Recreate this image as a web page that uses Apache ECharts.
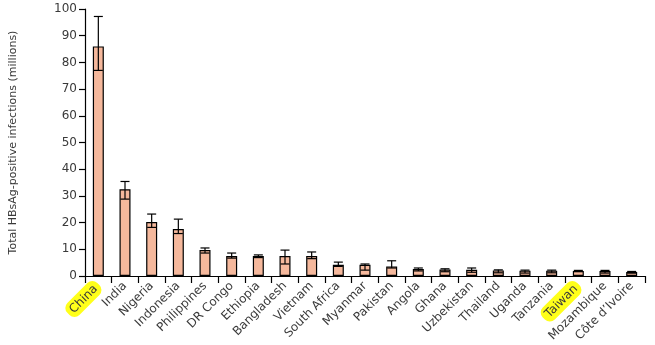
<!DOCTYPE html>
<html>
<head>
<meta charset="utf-8">
<script src="https://cdn.jsdelivr.net/npm/echarts@6/dist/echarts.min.js"></script>
<style>
  html, body { margin: 0; padding: 0; background: #fff; }
  #chart { width: 655px; height: 345px; }
</style>
</head>
<body>
<div id="chart"></div>
<script>
// HBsAg-positive infections by country (millions), with uncertainty ranges
const countries = ['China', 'India', 'Nigeria', 'Indonesia', 'Philippines', 'DR Congo', 'Ethiopia',
  'Bangladesh', 'Vietnam', 'South Africa', 'Myanmar', 'Pakistan', 'Angola', 'Ghana', 'Uzbekistan',
  'Thailand', 'Uganda', 'Tanzania', 'Taiwan', 'Mozambique', 'Côte d’Ivoire'];
const infections = [86, 32.5, 20.2, 17.6, 9.7, 7.5, 7.5, 7.5, 7.5, 4.2, 4.2, 3.6, 2.6, 2.4, 2.3,
  2.1, 2.0, 2.0, 1.9, 1.9, 1.5];
const lowerBound = [77, 28.8, 18.2, 15.9, 8.6, 6.7, 6.9, 4.5, 6.5, 3.6, 2.2, 3.0, 1.9, 1.6, 1.4,
  1.2, 1.1, 1.2, 1.7, 1.1, 1.1];
const upperBound = [97.2, 35.4, 23.2, 21.3, 10.5, 8.6, 7.9, 9.7, 9.0, 5.2, 4.5, 5.7, 3.0, 2.7, 3.0,
  2.3, 2.2, 2.2, 2.1, 2.1, 1.7];
const highlighted = ['China', 'Taiwan'];
const yTicks = { min: 0, max: 100, interval: 10 };

const chart = echarts.init(document.getElementById('chart'), null, { renderer: 'canvas' });

const errorData = countries.map((c, i) => [i, lowerBound[i], upperBound[i]]);

chart.setOption({
  animation: false,
  backgroundColor: '#ffffff',
  grid: { left: 84, right: 10, top: 9, bottom: 69 },
  xAxis: {
    type: 'category',
    data: countries,
    axisLine: { lineStyle: { color: '#000', width: 1.2 } },
    axisTick: { show: true, length: 7, lineStyle: { color: '#000', width: 1.2 } },
    axisLabel: {
      interval: 0,
      rotate: 45,
      margin: 8,
      fontFamily: 'DejaVu Sans',
      fontSize: 12,
      color: '#3a3a3a',
      formatter: v => highlighted.includes(v) ? '{hl|' + v + '}' : v,
      rich: {
        hl: {
          backgroundColor: '#ffff1a',
          borderRadius: 7,
          padding: [3, 4, 2, 4],
          fontFamily: 'DejaVu Sans',
          fontSize: 12,
          color: '#3a3a3a'
        }
      }
    }
  },
  yAxis: {
    type: 'value',
    min: yTicks.min,
    max: yTicks.max,
    interval: yTicks.interval,
    name: 'Total HBsAg-positive infections (millions)',
    nameLocation: 'middle',
    nameGap: 66,
    nameTextStyle: { fontFamily: 'DejaVu Sans', fontSize: 11, color: '#3a3a3a' },
    axisLine: { show: true, lineStyle: { color: '#000', width: 1.2 } },
    axisTick: { show: true, length: 6, lineStyle: { color: '#000', width: 1.2 } },
    axisLabel: { fontFamily: 'DejaVu Sans', fontSize: 12, color: '#3a3a3a', margin: 8 },
    splitLine: { show: false }
  },
  series: [
    {
      type: 'bar',
      data: infections,
      barWidth: 11,
      itemStyle: { color: '#f5b89c', borderColor: '#000', borderWidth: 1.2 }
    },
    {
      type: 'custom',
      data: errorData,
      z: 5,
      renderItem: function (params, api) {
        const idx = api.value(0);
        const lo = api.coord([idx, api.value(1)]);
        const hi = api.coord([idx, api.value(2)]);
        const half = 4.5;
        const style = { stroke: '#000', lineWidth: 1.2 };
        return {
          type: 'group',
          children: [
            { type: 'line', shape: { x1: lo[0], y1: lo[1], x2: hi[0], y2: hi[1] }, style },
            { type: 'line', shape: { x1: hi[0] - half, y1: hi[1], x2: hi[0] + half, y2: hi[1] }, style },
            { type: 'line', shape: { x1: lo[0] - half, y1: lo[1], x2: lo[0] + half, y2: lo[1] }, style }
          ]
        };
      }
    }
  ]
});
</script>
</body>
</html>
